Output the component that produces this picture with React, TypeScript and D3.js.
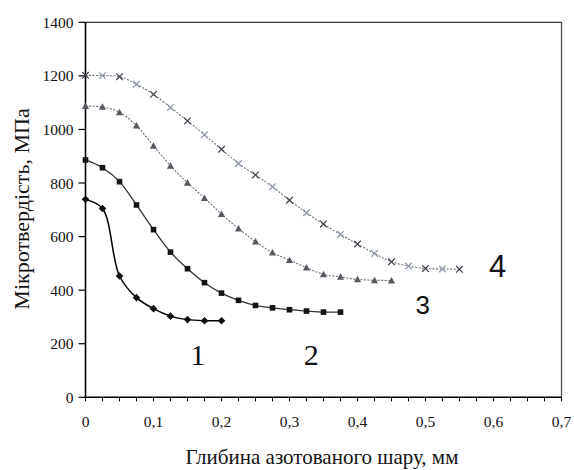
import React from "react";
import * as d3 from "d3";

const xStep = 0.025;
const series1 = [739, 705, 453, 372, 331, 303, 290, 286, 286];
const series2 = [886, 857, 805, 718, 626, 542, 480, 428, 389, 362, 343, 334, 327, 322, 318, 318];
const series3 = [1087, 1084, 1064, 1014, 939, 864, 801, 744, 684, 630, 581, 540, 512, 484, 459, 450, 440, 437, 436];
const series4 = [1202, 1201, 1197, 1169, 1131, 1082, 1032, 980, 926, 873, 830, 786, 736, 689, 647, 608, 572, 537, 506, 490, 481, 479, 478];
const xTickLabels = ["0", "0,1", "0,2", "0,3", "0,4", "0,5", "0,6", "0,7"];
const yTickValues = [0, 200, 400, 600, 800, 1000, 1200, 1400];
const curveLabels = [
  { text: "1", x: 0.165, y: 120 },
  { text: "2", x: 0.332, y: 120 },
  { text: "3", x: 0.496, y: 310 },
  { text: "4", x: 0.606, y: 450 },
];
const xTitle = "Глибина азотованого шару, мм";
const yTitle = "Мікротвердість, МПа";

const W = 574, H = 470;
const x = d3.scaleLinear().domain([0, 0.7]).range([85.5, 561.5]);
const y = d3.scaleLinear().domain([0, 1400]).range([397.3, 22.3]);

const toPts = (arr: number[]) => arr.map((v, i) => [i * xStep, v] as [number, number]);
const line = d3
  .line<[number, number]>()
  .x((d) => x(d[0]))
  .y((d) => y(d[1]))
  .curve(d3.curveCatmullRom.alpha(0.5));

function Diamond({ cx, cy }: { cx: number; cy: number }) {
  const r = 3.8;
  return <path d={`M${cx},${cy - r}L${cx + r},${cy}L${cx},${cy + r}L${cx - r},${cy}Z`} fill="#111" />;
}
function Square({ cx, cy }: { cx: number; cy: number }) {
  const r = 2.8;
  return <rect x={cx - r} y={cy - r} width={2 * r} height={2 * r} fill="#151515" />;
}
function Tri({ cx, cy }: { cx: number; cy: number }) {
  const r = 3.6;
  return <path d={`M${cx},${cy - r}L${cx + r},${cy + r * 0.8}L${cx - r},${cy + r * 0.8}Z`} fill="#555a60" />;
}
function Cross({ cx, cy, i }: { cx: number; cy: number; i: number }) {
  const r = 3.3;
  const c = i % 2 === 0 ? "#3a3f48" : "#8a96a8";
  return (
    <path d={`M${cx - r},${cy - r}L${cx + r},${cy + r}M${cx - r},${cy + r}L${cx + r},${cy - r}`} stroke={c} strokeWidth={1.2} fill="none" />
  );
}

export default function App() {
  const xTicks = d3.range(0, 0.7001, 0.025);
  const p1 = toPts(series1), p2 = toPts(series2), p3 = toPts(series3), p4 = toPts(series4);
  return (
    <svg width={W} height={H} fontFamily="Liberation Serif" style={{ position: "absolute", left: 0, top: 0 }}>
      <style>{`.srf{font-family:"Liberation Serif",serif}.sns{font-family:"Liberation Sans",sans-serif}`}</style>
      <rect x={0} y={0} width={W} height={H} fill="#fff" />
      {/* frame */}
      <line x1={x(0)} x2={x(0.7)} y1={y(1400)} y2={y(1400)} stroke="#333" strokeWidth={1.3} />
      <line x1={x(0.7)} x2={x(0.7)} y1={y(1400)} y2={y(0)} stroke="#555" strokeWidth={1.3} />
      <line x1={x(0)} x2={x(0)} y1={y(1400)} y2={y(0)} stroke="#000" strokeWidth={1.6} />
      <line x1={x(0)} x2={x(0.7)} y1={y(0)} y2={y(0)} stroke="#000" strokeWidth={1.6} />
      {/* y ticks */}
      {yTickValues.map((v) => (
        <g key={v}>
          <line x1={x(0) - 7} x2={x(0)} y1={y(v)} y2={y(v)} stroke="#000" strokeWidth={1.2} />
          <text className="srf" x={x(0) - 12} y={y(v) + 5.5} textAnchor="end" fontSize={15.5} fill="#111">
            {v}
          </text>
        </g>
      ))}
      {/* x ticks */}
      {xTicks.map((v, i) => (
        <line key={i} x1={x(v)} x2={x(v)} y1={y(0)} y2={y(0) + 4} stroke="#000" strokeWidth={1.1} />
      ))}
      {xTickLabels.map((t, i) => (
        <text className="srf" key={t} x={x(i * 0.1)} y={427} textAnchor="middle" fontSize={15.5} fill="#111">
          {t}
        </text>
      ))}
      {/* titles */}
      <text className="srf" x={322} y={464} textAnchor="middle" fontSize={21} fill="#111">
        {xTitle}
      </text>
      <text className="srf" transform={`translate(29,209) rotate(-90)`} textAnchor="middle" fontSize={22} fill="#111">
        {yTitle}
      </text>
      {/* series 4 */}
      <path d={line(p4) || ""} fill="none" stroke="#6b7280" strokeWidth={1.1} strokeDasharray="2,1.5" />
      {p4.map((d, i) => (
        <Cross key={i} cx={x(d[0])} cy={y(d[1])} i={i} />
      ))}
      {/* series 3 */}
      <path d={line(p3) || ""} fill="none" stroke="#6a6f78" strokeWidth={1.1} strokeDasharray="2,1.5" />
      {p3.map((d, i) => (
        <Tri key={i} cx={x(d[0])} cy={y(d[1])} />
      ))}
      {/* series 2 */}
      <path d={line(p2) || ""} fill="none" stroke="#333" strokeWidth={1.3} />
      {p2.map((d, i) => (
        <Square key={i} cx={x(d[0])} cy={y(d[1])} />
      ))}
      {/* series 1 */}
      <path d={line(p1) || ""} fill="none" stroke="#000" strokeWidth={1.5} />
      {p1.map((d, i) => (
        <Diamond key={i} cx={x(d[0])} cy={y(d[1])} />
      ))}
      {/* curve labels */}
      {curveLabels.map((l, i) => (
        <text
          key={l.text}
          className={i < 2 ? "srf" : "sns"}
          x={x(l.x)}
          y={y(l.y)}
          textAnchor="middle"
          fontSize={i < 2 ? 30 : i === 2 ? 26 : 31}
          fill="#111"
        >
          {l.text}
        </text>
      ))}
    </svg>
  );
}
